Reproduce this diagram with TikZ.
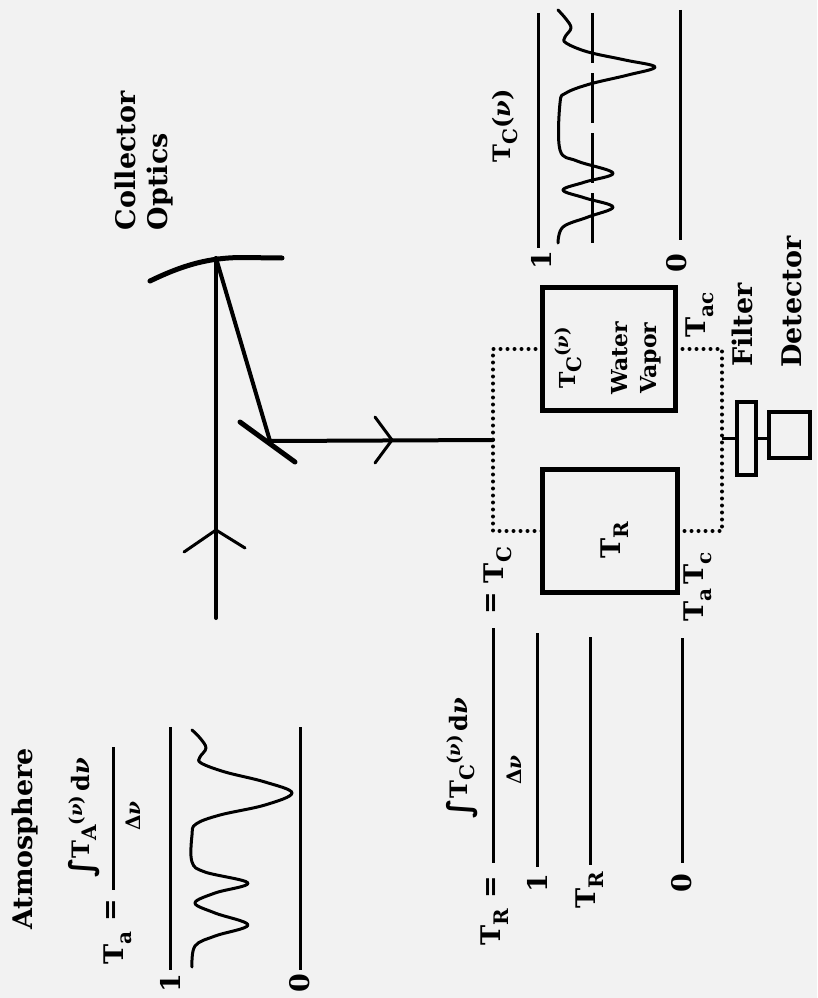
\documentclass[tikz,border=0pt]{standalone}
\usepackage{fontspec}
\setmainfont{DejaVu Serif}
\newfontfamily\symf{DejaVu Sans}
\newcommand\fs[1]{\fontsize{#1}{#1}\selectfont}
\newcommand\lo[2][20]{\raisebox{-0.3em}{\fs{#1}#2}}
\newcommand\hi[2][18]{\raisebox{0.3em}{\fs{#1}#2}}
\newcommand\nuu{\textit{ν}}
\newcommand\intg{\raisebox{-0.12em}{\symf\fs{32}∫}}
\begin{document}
\begin{tikzpicture}[x=1pt,y=-1pt,
  every node/.style={inner sep=0pt, outer sep=0pt},
  lbl/.style={rotate=90, font=\bfseries\fs{27}},
  sml/.style={rotate=90, font=\bfseries\fs{22}},
  beam/.style={line width=4pt, line cap=round},
  chev/.style={line width=3pt, line cap=round, line join=round},
  mirror/.style={line width=5pt, line cap=round},
  axis/.style={line width=3pt},
  spec/.style={line width=3pt, line join=round, line cap=round},
  dotline/.style={line width=4pt, line cap=round, dash pattern=on 0pt off 7pt},
  thickbox/.style={draw, line width=5pt},
  thinbox/.style={draw, line width=4pt},
  link/.style={line width=3pt}]
\fill[black!5] (0,0) rectangle (817,998);
\useasboundingbox (0,0) rectangle (817,998);

% ---------- optics ----------
\coordinate (in) at (216,618);
\coordinate (pm) at (216,258);
\coordinate (sm) at (270,441);
\coordinate (jn) at (493,440);
\coordinate (rk) at (722,440);
\draw[mirror] (150,281) .. controls (185,264) and (210,258) .. (240,257.5) -- (282,258);
\draw[mirror] (240,422) -- (295,462);
\draw[beam] (in) -- (pm);
\draw[beam] (pm) -- (sm) -- (jn);
\draw[chev] (184,552) -- (216,530) -- (245,548);
\draw[chev] (375,417) -- (392,440) -- (375,463);
\node[lbl, anchor=base west] (col) at (135,230) {Collector};
\node[lbl, anchor=base west] (opt) at (167,230) {Optics};

% ---------- cells, filter, detector ----------
\node[thickbox, minimum width=135pt, minimum height=123pt] (TR) at (610,531) {};
\node[thickbox, minimum width=133pt, minimum height=123pt] (WV) at (609,349) {};
\node[thinbox, minimum width=19pt, minimum height=73pt] (FL) at (746.5,438.5) {};
\node[thinbox, minimum width=41pt, minimum height=46pt] (DT) at (789.5,435) {};
\draw[dotline] (WV.west) -- (WV.west -| jn) -- (TR.west -| jn) -- (TR.west);
\draw[dotline] (WV.east) -- (WV.east -| rk) -- (TR.east -| rk) -- (TR.east);
\draw[link] (FL.west -| rk) -- (FL.west);
\draw[link] (FL.east) -- (FL.east -| DT.west);

\node[lbl, anchor=base] (trl) at (620,540) {T\lo{R}};
\node[sml, anchor=base] (wv1) at (575,358) {T\lo{C}\hi{(\nuu)}};
\node[sml, anchor=base] (wv2) at (627,358) {Water};
\node[sml, anchor=base] (wv3) at (656,358) {Vapor};
\node[lbl, anchor=base] (tac) at (705,315) {T\lo{ac}};
\node[lbl, anchor=base] (tatc) at (703,587) {T\lo{a}\,T\lo{c}};
\node[lbl, anchor=base] (fil) at (752,325) {Filter};
\node[lbl, anchor=base] (det) at (801,302) {Detector};

% ---------- T_C(nu) spectrum ----------
\draw[axis] (538,13) -- (538,248);
\draw[axis] (680,10) -- (680,240);
\draw[axis, dash pattern=on 50pt off 10pt] (592,13) -- (592,243);
\draw[spec] plot[smooth, tension=0.6] coordinates {(558,10) (566,19) (571,28) (565,37) (566,43) (588,52) (625,60) (655,67) (628,75) (590,84) (566,93) (560,103) (560,150) (577,161) (613,173) (585,182) (563,190) (585,198) (613,207) (588,217) (563,227) (558,243)};
\node[lbl, font=\bfseries\fs{24}] (tcl) at (505,126) {T\lo{C}(\nuu)};
\node[lbl] (tc1) at (541,260) {1};
\node[lbl] (tc0) at (677,263) {0};

% ---------- T_R formula and levels ----------
\node[lbl, anchor=base] (trf) at (500,927) {T\lo{R}};
\node[lbl] (eq1) at (493,887) {=};
\draw[axis] (493,628) -- (493,863);
\node[lbl, font=\bfseries\fs{24}] (trn) at (462,758) {\intg T\lo{C}\hi{(\nuu)}\,d\nuu};
\node[lbl, font=\bfseries\fs{20}] (trd) at (514,770) {Δ\nuu};
\node[lbl] (eq2) at (493,603) {=};
\node[lbl, anchor=base] (tce) at (503,565) {T\lo{C}};
\draw[axis] (537,633) -- (537,867);
\draw[axis] (590,637) -- (590,865);
\draw[axis] (682,638) -- (682,863);
\node[lbl] (r1) at (537,883) {1};
\node[lbl] (rtr) at (590,890) {T\lo{R}};
\node[lbl] (r0) at (682,883) {0};

% ---------- Atmosphere ----------
\node[lbl, anchor=base] (atm) at (32,839) {Atmosphere};
\node[lbl, anchor=base] (taf) at (123,948) {T\lo{a}};
\node[lbl] (eq3) at (113,910) {=};
\draw[axis] (113,747) -- (113,890);
\node[lbl, font=\bfseries\fs{24}] (tan) at (84,818) {\intg T\lo{A}\hi{(\nuu)}\,d\nuu};
\node[lbl, font=\bfseries\fs{20}] (tad) at (133,816) {Δ\nuu};
\draw[axis] (170,727) -- (170,970);
\draw[axis] (300,727) -- (300,970);
\draw[spec] plot[smooth, tension=0.6] coordinates {(192,730) (200,738) (206,748) (200,757) (201,763) (225,772) (265,782) (292,793) (265,805) (220,815) (196,824) (192,835) (192,862) (205,872) (248,883) (215,893) (195,903) (215,913) (248,925) (215,936) (195,946) (192,967)};
\node[lbl] (a1) at (170,983) {1};
\node[lbl] (a0) at (300,983) {0};
\end{tikzpicture}
\end{document}
